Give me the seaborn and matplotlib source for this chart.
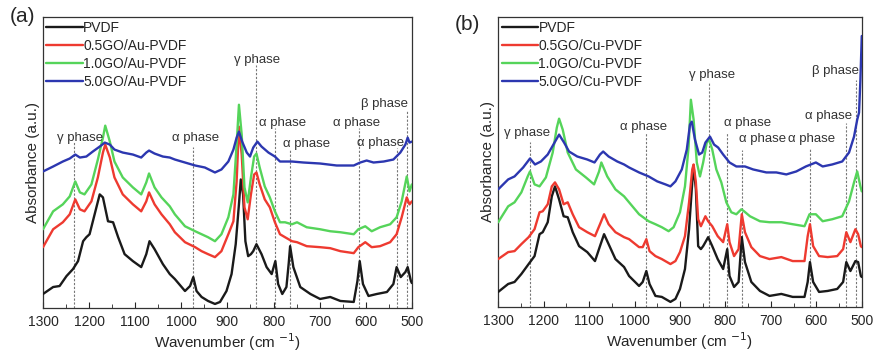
import numpy as np
import pandas as pd
import seaborn as sns
import matplotlib.pyplot as plt
from matplotlib.ticker import MultipleLocator

# ---- panel (a): GO/Au-PVDF spectra (wavenumber, absorbance a.u.) ----
wn_a_pvdf = [1300, 1278, 1264, 1249, 1235, 1224, 1213, 1206, 1199, 1188, 1177, 1170, 1159, 1148, 1137,
             1123, 1105, 1087, 1076, 1069, 1058, 1040, 1025, 1014, 992, 981, 974, 967, 956, 942, 927,
             916, 902, 891, 882, 875, 871, 866, 861, 855, 849, 844, 837, 826, 815, 804, 796, 790, 781,
             772, 767, 764, 757, 742, 720, 699, 677, 655, 626, 618, 613, 606, 594, 576, 554, 540, 533,
             524, 514, 509, 502, 500]
ab_a_pvdf = [14, 21, 22, 32, 39, 47, 67, 71, 74, 94, 114, 111, 87, 86, 71,
             54, 47, 41, 54, 67, 59, 44, 34, 29, 17, 22, 31, 17, 11, 7, 4,
             6, 17, 34, 64, 104, 129, 114, 67, 52, 54, 57, 64, 54, 41, 34, 47, 24, 14,
             21, 45, 62, 41, 21, 14, 9, 11, 7, 6, 27, 47, 24, 12, 14, 16, 24, 41,
             31, 36, 41, 27, 25]

wn_a_05 = [1300, 1278, 1257, 1242, 1230, 1220, 1210, 1195, 1181, 1170, 1165, 1155, 1145, 1127, 1105,
           1087, 1076, 1070, 1058, 1043, 1025, 1014, 992, 970, 956, 942, 927, 913, 898, 887, 880,
           875, 869, 863, 856, 849, 842, 837, 830, 819, 808, 797, 786, 775, 760, 749, 728, 699,
           677, 655, 626, 616, 601, 587, 569, 547, 533, 522, 511, 505, 500]
ab_a_05 = [61, 79, 86, 94, 109, 99, 97, 107, 131, 156, 164, 151, 131, 114, 104,
           97, 107, 116, 104, 94, 84, 76, 66, 61, 57, 54, 51, 57, 74, 87, 127,
           182, 154, 101, 89, 114, 134, 136, 124, 109, 101, 86, 74, 71, 67, 66, 62, 61,
           60, 57, 55, 61, 66, 61, 62, 66, 74, 91, 111, 104, 107]

wn_a_10 = wn_a_05
ab_a_10 = [79, 97, 104, 112, 127, 116, 114, 124, 149, 171, 183, 167, 147, 131, 121,
           114, 126, 135, 121, 111, 102, 94, 82, 77, 74, 71, 67, 74, 91, 114, 164,
           204, 174, 121, 106, 131, 152, 155, 141, 122, 111, 97, 86, 86, 84, 86, 81, 79,
           77, 76, 74, 79, 82, 77, 81, 84, 91, 107, 132, 117, 124]

wn_a_50 = [1300, 1278, 1257, 1242, 1230, 1220, 1206, 1192, 1177, 1166, 1155, 1145, 1127, 1105, 1087,
           1076, 1070, 1058, 1040, 1025, 1014, 992, 970, 949, 927, 913, 898, 887, 880, 875, 868,
           858, 851, 844, 835, 826, 811, 797, 786, 772, 760, 735, 699, 663, 626, 612, 598, 583,
           561, 540, 525, 514, 509, 505, 500]
ab_a_50 = [137, 142, 147, 150, 154, 151, 152, 157, 162, 166, 164, 159, 156, 154, 151,
           156, 158, 155, 152, 151, 149, 146, 143, 141, 136, 139, 147, 159, 171, 177, 167,
           156, 152, 161, 167, 162, 156, 152, 147, 147, 147, 146, 145, 143, 143, 146, 148, 146,
           147, 149, 156, 164, 171, 166, 167]

# ---- panel (b): GO/Cu-PVDF spectra ----
wn_b_pvdf = [1300, 1278, 1264, 1249, 1233, 1220, 1209, 1202, 1191, 1182, 1175, 1166, 1156, 1147, 1136,
             1122, 1104, 1087, 1076, 1067, 1057, 1042, 1023, 1012, 990, 982, 974, 967, 954, 940, 921,
             910, 900, 889, 880, 873, 870, 865, 860, 854, 849, 844, 838, 829, 817, 805, 796, 791,
             781, 771, 764, 757, 743, 724, 703, 677, 652, 626, 619, 614, 607, 594, 575, 554, 541,
             534, 525, 514, 508, 502, 500]
ab_b_pvdf = [15, 23, 25, 33, 43, 51, 73, 75, 85, 111, 121, 108, 91, 90, 75,
             61, 55, 46, 61, 73, 63, 48, 40, 31, 21, 25, 36, 23, 11, 10, 5,
             8, 18, 38, 78, 125, 141, 118, 61, 58, 61, 65, 70, 61, 48, 38, 58, 31,
             20, 25, 70, 45, 25, 16, 11, 13, 10, 10, 25, 45, 25, 15, 16, 18, 25,
             45, 36, 46, 45, 31, 30]

wn_b_05 = wn_b_pvdf
ab_b_05 = [48, 55, 56, 63, 70, 78, 95, 96, 103, 121, 125, 118, 103, 105, 93,
           80, 75, 71, 83, 93, 83, 75, 70, 68, 60, 60, 68, 56, 51, 48, 43,
           46, 55, 71, 105, 138, 143, 125, 88, 81, 86, 91, 86, 81, 71, 65, 83, 65,
           51, 58, 93, 75, 60, 51, 48, 50, 46, 46, 71, 83, 61, 51, 50, 51, 58,
           75, 65, 78, 73, 61, 60]

wn_b_10 = [1300, 1278, 1264, 1249, 1235, 1230, 1220, 1209, 1195, 1180, 1171, 1166, 1158, 1147, 1129,
           1107, 1089, 1078, 1073, 1060, 1042, 1023, 1012, 990, 969, 954, 940, 925, 914, 900, 889,
           881, 876, 870, 863, 856, 849, 841, 836, 829, 820, 809, 798, 787, 776, 765, 759, 746,
           724, 703, 677, 652, 626, 615, 601, 586, 565, 543, 528, 517, 510, 503, 500]
ab_b_10 = [85, 101, 105, 115, 131, 136, 123, 121, 130, 155, 180, 189, 178, 155, 138,
           130, 123, 136, 145, 131, 118, 111, 105, 93, 86, 83, 80, 76, 80, 95, 121,
           161, 208, 188, 145, 131, 145, 165, 168, 158, 138, 125, 105, 95, 93, 98, 96, 91,
           86, 85, 85, 83, 81, 93, 93, 86, 88, 91, 106, 125, 136, 121, 116]

wn_b_50 = [1300, 1278, 1264, 1245, 1230, 1219, 1206, 1191, 1176, 1166, 1155, 1144, 1126, 1104, 1088,
           1076, 1069, 1057, 1038, 1023, 1012, 990, 969, 950, 932, 921, 910, 896, 885, 878, 874,
           867, 858, 851, 844, 834, 825, 816, 805, 791, 776, 757, 739, 710, 688, 666, 644, 623,
           601, 586, 565, 543, 528, 517, 510, 506, 503, 500]
ab_b_50 = [118, 128, 131, 140, 149, 143, 146, 153, 165, 173, 165, 156, 151, 148, 145,
           153, 156, 151, 146, 143, 140, 135, 131, 126, 123, 121, 126, 138, 158, 183, 186,
           168, 153, 155, 165, 171, 163, 160, 153, 145, 141, 141, 138, 135, 135, 133, 136, 141,
           145, 141, 143, 146, 155, 171, 188, 195, 228, 272]

# phase marker lines: (wavenumber, top of dashed line)
marks_a = [(1232, 167), (975, 162), (837, 244), (796, 181), (764, 159), (615, 181), (532, 161), (510, 199)]
marks_b = [(1231, 166), (975, 175), (836, 226), (796, 176), (764, 158), (614, 160), (535, 185), (512, 228)]

# phase labels: (text, wavenumber, height)
labels_a = [("γ phase", 1220, 171), ("α phase", 970, 171), ("γ phase", 836, 249), ("α phase", 780, 186),
            ("α phase", 728, 165), ("α phase", 619, 186), ("α phase", 567, 166), ("β phase", 559, 205)]
labels_b = [("γ phase", 1237, 175), ("α phase", 980, 181), ("γ phase", 829, 233), ("α phase", 751, 185),
            ("α phase", 718, 169), ("α phase", 611, 169), ("α phase", 572, 192), ("β phase", 557, 237)]

colors = ["#1a1a1a", "#ee3a30", "#55d45a", "#2c37b0"]

sns.set_style("ticks")
plt.rcParams['font.family'] = ['Liberation Sans', 'DejaVu Sans']

fig = plt.figure(figsize=(8.74, 3.56), dpi=100)
ax_a = fig.add_axes([0.0492, 0.135, 0.422, 0.817])
ax_b = fig.add_axes([0.570, 0.138, 0.416, 0.814])

panels = [
    (ax_a, [(wn_a_pvdf, ab_a_pvdf), (wn_a_05, ab_a_05), (wn_a_10, ab_a_10), (wn_a_50, ab_a_50)],
     ["PVDF", "0.5GO/Au-PVDF", "1.0GO/Au-PVDF", "5.0GO/Au-PVDF"], marks_a, labels_a, 292),
    (ax_b, [(wn_b_pvdf, ab_b_pvdf), (wn_b_05, ab_b_05), (wn_b_10, ab_b_10), (wn_b_50, ab_b_50)],
     ["PVDF", "0.5GO/Cu-PVDF", "1.0GO/Cu-PVDF", "5.0GO/Cu-PVDF"], marks_b, labels_b, 291),
]

for ax, series, names, marks, labels, ytop in panels:
    for m, top in marks:
        ax.vlines(m, 0, top, colors="#777777", linestyles=(0, (2, 1.5)), linewidth=0.8, zorder=1)
    for (wn, ab), name, c in zip(series, names, colors):
        df = pd.DataFrame({"Wavenumber": wn, "Absorbance": ab})
        sns.lineplot(data=df, x="Wavenumber", y="Absorbance", ax=ax, color=c, linewidth=1.7,
                     label=name, sort=False, zorder=3)
    for txt, x, y in labels:
        ax.text(x, y, txt, fontsize=9.5, color="#333333", ha="center", va="center")

    ax.set_xlim(1300, 500)
    ax.set_ylim(0, ytop)
    ax.xaxis.set_major_locator(MultipleLocator(100))
    ax.xaxis.set_minor_locator(MultipleLocator(50))
    ax.tick_params(axis="x", which="major", direction="in", length=4, labelsize=10, pad=5)
    ax.tick_params(axis="x", which="minor", direction="in", length=3)
    ax.set_yticks([])
    ax.set_xlabel("Wavenumber (cm $^{-1}$)", fontsize=11, labelpad=2)
    ax.set_ylabel("Absorbance (a.u.)", fontsize=11, labelpad=2)
    for s in ax.spines.values():
        s.set_visible(True)
        s.set_linewidth(0.9)
        s.set_color("#333333")
    ax.legend(loc="upper left", frameon=False, fontsize=10, handlelength=2.6, handletextpad=0.05,
              labelspacing=0.3, borderaxespad=0.15, borderpad=0.1)

fig.text(0.026, 0.955, "(a)", fontsize=15, ha="center", va="center")
fig.text(0.535, 0.93, "(b)", fontsize=15, ha="center", va="center")

fig.savefig("out.png", dpi=100)
